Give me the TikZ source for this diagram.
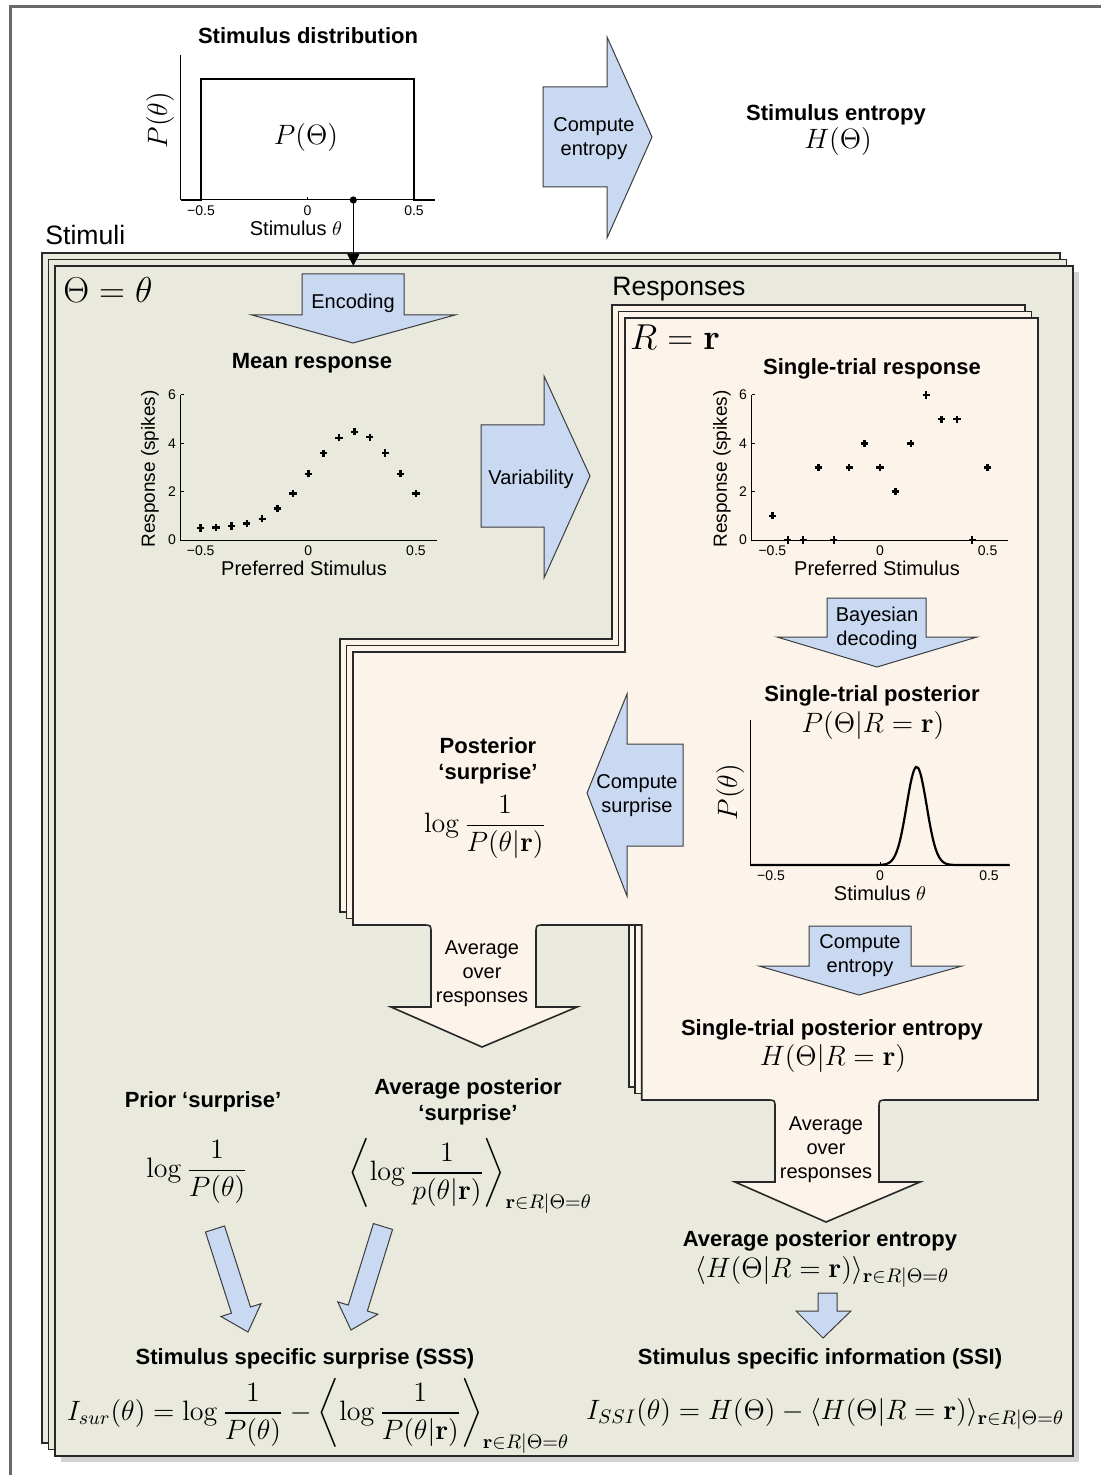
\RequirePackage{fix-cm}
\documentclass[tikz,border=0pt]{standalone}
\usepackage{amsmath}
\usepackage[no-math]{fontspec}
\setsansfont{Liberation Sans}
\usetikzlibrary{arrows.meta,calc,positioning}

\definecolor{stimfill}{RGB}{234,233,222}
\definecolor{respfill}{RGB}{252,244,235}
\definecolor{arrowblue}{RGB}{201,217,242}
\definecolor{arrowline}{RGB}{60,60,60}
\definecolor{pageline}{RGB}{40,40,40}
\definecolor{framegray}{RGB}{105,105,105}
\definecolor{shadowgray}{RGB}{210,210,210}

\begin{document}
\begin{tikzpicture}[
  x=0.5pt, y=-0.5pt,
  >=Stealth,
  head/.style ={font=\fontsize{11}{13}\selectfont\sffamily\bfseries,align=center,inner sep=0pt,yshift=-1.5pt},
  lbl/.style  ={font=\fontsize{10}{12}\selectfont\sffamily,align=center,inner sep=0pt,yshift=-1.5pt},
  xlbl/.style ={font=\fontsize{10}{12}\selectfont\sffamily,inner sep=0pt},
  group/.style={font=\fontsize{13.3}{15}\selectfont\sffamily,inner sep=0pt},
  eqn/.style  ={font=\fontsize{14}{16}\selectfont,inner sep=0pt},
  bigeqn/.style={font=\fontsize{18}{20}\selectfont,inner sep=0pt},
  tick/.style ={font=\fontsize{7}{8}\selectfont\sffamily,inner sep=0pt},
  axlbl/.style={font=\fontsize{9.5}{11}\selectfont\sffamily,inner sep=0pt},
  axis/.style ={draw=black,line width=0.5pt},
  curve/.style={draw=black,line width=1.1pt},
  spk/.style  ={draw=black,line width=1.2pt},
  page/.style ={draw=pageline,fill=stimfill,line width=0.8pt},
  rpage/.style={draw=pageline,fill=respfill,line width=0.8pt},
  barrow/.style={draw=arrowline,fill=arrowblue,line width=0.5pt},
]
\useasboundingbox (0,0) rectangle (1101,1475);

%% ------------------------------------------------------------
%% frame and the two stacks of pages
%% ------------------------------------------------------------
\draw[framegray,line width=1.5pt] (10,1475) -- (10,7) -- (1101,7);

% --- Stimuli stack ---
\fill[shadowgray] (61,272) rectangle (1079,1462);
\foreach \d in {13,6.5,0}
  \draw[page] ({55-\d},{266-\d}) rectangle ({1073-\d},{1456-\d});
\coordinate (pagetop) at (353.3,266);

% --- Responses stack (front page carries the two averaging arrows) ---
\foreach \d in {13,6.5}
  \draw[rpage,shift={(-\d,-\d)}] (625,318) -- (1038,318) -- (1038,1100)
    -- (641.7,1100) -- (641.7,925) -- (353,925) -- (353,652) -- (625,652) -- cycle;
\draw[rpage] (625,318) -- (1038,318) -- (1038,1100) -- (887,1100)
  .. controls (879,1100) .. (879,1108) -- (879,1182) -- (920,1182) -- (826,1222)
  -- (735,1182) -- (775,1182) -- (775,1108) .. controls (775,1100) .. (767,1100)
  -- (641.7,1100) -- (641.7,925) -- (544,925) .. controls (536,925) .. (536,933)
  -- (536,1007) -- (577,1007) -- (482,1047) -- (391,1007) -- (431,1007)
  -- (431,933) .. controls (431,925) .. (423,925) -- (353,925) -- (353,652)
  -- (625,652) -- cycle;

\node[group,anchor=west] (stimuli) at (45,235) {Stimuli};
\node[group,anchor=west] (responses) at (612,289) {Responses};
\node[bigeqn] (thetaeq) at (108,290) {$\Theta=\theta$};
\node[bigeqn] (req) at (675,337) {$R=\mathbf{r}$};

%% ------------------------------------------------------------
%% block arrows
%% ------------------------------------------------------------
\draw[barrow] (543,87) -- (607,87) -- (607,37) -- (652,137) -- (607,238) -- (607,187) -- (543,187) -- cycle;
\draw[barrow] (302,274) -- (404,274) -- (404,315) -- (455,315) -- (353,343) -- (252,315) -- (302,315) -- cycle;
\draw[barrow] (481,425) -- (544,425) -- (544,376) -- (590,476) -- (544,578) -- (544,527) -- (481,527) -- cycle;
\draw[barrow] (827,598) -- (926,598) -- (926,637) -- (977,637) -- (877,667) -- (777,637) -- (827,637) -- cycle;
\draw[barrow] (683,744) -- (627,744) -- (627,694) -- (587,793) -- (627,896) -- (627,846) -- (683,846) -- cycle;
\draw[barrow] (809,926) -- (911,926) -- (911,966) -- (962,966) -- (859,995) -- (759,966) -- (809,966) -- cycle;
\draw[barrow] (818,1293) -- (837,1293) -- (837,1311) -- (851,1311) -- (823,1338) -- (796,1311) -- (818,1311) -- cycle;

% --- slanted arrows into the SSS ---
\coordinate (pa0) at (215,1229);   \coordinate (pa1) at (248,1332);
\coordinate (pb0) at (383,1226.5); \coordinate (pb1) at (351,1330);
\coordinate (pab) at ($(pa1)!11.5pt!(pa0)$);
\coordinate (pbb) at ($(pb1)!11.5pt!(pb0)$);
\draw[barrow] ($(pa0)!5pt!90:(pa1)$) -- ($(pab)!5pt!90:(pa1)$) -- ($(pab)!10.5pt!90:(pa1)$)
  -- (pa1) -- ($(pab)!10.5pt!-90:(pa1)$) -- ($(pab)!5pt!-90:(pa1)$) -- ($(pa0)!5pt!-90:(pa1)$) -- cycle;
\draw[barrow] ($(pb0)!5pt!90:(pb1)$) -- ($(pbb)!5pt!90:(pb1)$) -- ($(pbb)!10.5pt!90:(pb1)$)
  -- (pb1) -- ($(pbb)!10.5pt!-90:(pb1)$) -- ($(pbb)!5pt!-90:(pb1)$) -- ($(pb0)!5pt!-90:(pb1)$) -- cycle;

% --- arrow texts ---
\node[lbl] (cent1) at (594,136) {Compute\\entropy};
\node[lbl] (encode) at (353,300) {Encoding};
\node[lbl] (vari) at (531,476) {Variability};
\node[lbl] (bayes) at (877,625) {Bayesian\\decoding};
\node[lbl] (csurp) at (637,793) {Compute\\surprise};
\node[lbl] (cent2) at (860,953) {Compute\\entropy};
\node[lbl] (avg1) at (482,971) {Average\\over\\responses};
\node[lbl] (avg2) at (826,1147) {Average\\over\\responses};

%% ------------------------------------------------------------
%% plots
%% ------------------------------------------------------------
% --- stimulus distribution ---
\begin{scope}[shift={(307.5,200)},x=106.5pt,y=0.5pt]
  \draw[axis] (-0.596,145) -- (-0.596,0) -- (0.599,0);
  \draw[axis] (0,0) -- ++(0pt,1.5pt);
  \draw[curve] (-0.596,0) -- (-0.5,0) -- (-0.5,121) -- (0.5,121) -- (0.5,0) -- (0.599,0);
  \foreach \x/\t in {-0.5/−0.5,0/0,0.5/0.5}
    \node[tick,below=2.5pt] at (\x,0) {\t};
\end{scope}
\node[head] (stimdist) at (308,33) {Stimulus distribution};
\node[eqn] (ptheta) at (306,138) {$P(\Theta)$};
\node[eqn,rotate=90] (pylab1) at (160,120) {$P(\theta)$};
\node[xlbl] (xlab1) at (296,228) {Stimulus $\theta$};
\node[circle,fill,inner sep=0pt,minimum size=3.6pt] (thetadot) at (353.3,200) {};
\draw[->,line width=0.6pt,-{Triangle[length=6pt,width=6pt]}] (thetadot.center) -- (pagetop);

\node[head] (stimHt) at (836,112) {Stimulus entropy};
\node[eqn] (stimH) at (838,142) {$H(\Theta)$};

% --- mean response ---
\node[head] (meanresp) at (312,360) {Mean response};
\begin{scope}[shift={(308.3,540)},x=107.65pt,y=12.085pt]
  \draw[axis] (-0.593,6) -- (-0.593,0) -- (0.596,0);
  \foreach \v in {2,4,6} \draw[axis] (-0.593,\v) -- ++(1.5pt,0pt);
  \foreach \v in {0,2,4,6} \node[tick,left=2.2pt] at (-0.593,\v) {\v};
  \foreach \x/\t in {-0.5/−0.5,0/0,0.5/0.5}
    \node[tick,below=2.5pt] at (\x,0) {\t};
  \foreach \v [count=\k from 0] in {0.50,0.52,0.58,0.68,0.88,1.30,1.92,2.74,3.59,4.23,4.48,4.25,3.60,2.74,1.93}
    \draw[spk] ({-0.5+\k/14},\v) +(-1.8pt,0pt) -- +(1.8pt,0pt) +(0pt,-1.8pt) -- +(0pt,1.8pt);
\end{scope}
\node[axlbl,rotate=90] (ylab2) at (150,469) {Response (spikes)};
\node[xlbl] (xlab2) at (304,568) {Preferred Stimulus};

% --- single-trial response ---
\node[head] (strial) at (872,366) {Single-trial response};
\begin{scope}[shift={(880,540)},x=107.65pt,y=12.085pt]
  \draw[axis] (-0.5955,6) -- (-0.5955,0) -- (0.595,0);
  \foreach \v in {2,4,6} \draw[axis] (-0.5955,\v) -- ++(1.5pt,0pt);
  \foreach \v in {0,2,4,6} \node[tick,left=2.2pt] at (-0.5955,\v) {\v};
  \foreach \x/\t in {-0.5/−0.5,0/0,0.5/0.5}
    \node[tick,below=2.5pt] at (\x,0) {\t};
  \foreach \v [count=\k from 0] in {1,0,0,3,0,3,4,3,2,4,6,5,5,0,3}
    \draw[spk] ({-0.5+\k/14},\v) +(-1.8pt,0pt) -- +(1.8pt,0pt) +(0pt,-1.8pt) -- +(0pt,1.8pt);
\end{scope}
\node[axlbl,rotate=90] (ylab3) at (722,469) {Response (spikes)};
\node[xlbl] (xlab3) at (877,568) {Preferred Stimulus};

% --- single-trial posterior ---
\node[head] (spost) at (872,693) {Single-trial posterior};
\node[eqn] (spostf) at (873,725) {$P(\Theta|R=\mathbf{r})$};
\begin{scope}[shift={(880,865)},x=109pt,y=0.5pt]
  \draw[axis] (-0.593,145) -- (-0.593,0) -- (0.596,0);
  \draw[axis] (0,0) -- ++(0pt,1.5pt);
  \draw[curve] plot[domain=-0.593:0.596,samples=120,smooth]
    (\x,{98*exp(-((\x-0.168)^2)/(2*0.046^2))});
  \foreach \x/\t in {-0.5/−0.5,0/0,0.5/0.5}
    \node[tick,below=2.5pt] at (\x,0) {\t};
\end{scope}
\node[eqn,rotate=90] (pylab4) at (730,792) {$P(\theta)$};
\node[xlbl] (xlab4) at (880,893) {Stimulus $\theta$};

%% ------------------------------------------------------------
%% surprise and entropy terms
%% ------------------------------------------------------------
\node[head] (postsurp) at (488,758) {Posterior\\‘surprise’};
\node[eqn] (postsurpf) at (485,827) {$\log\dfrac{1}{P(\theta|\mathbf{r})}$};

\node[head] (stent) at (832,1027) {Single-trial posterior entropy};
\node[eqn] (stentf) at (833,1058) {$H(\Theta|R=\mathbf{r})$};

\node[head] (priorsurp) at (203,1099) {Prior ‘surprise’};
\node[eqn] (priorsurpf) at (197,1172) {$\log\dfrac{1}{P(\theta)}$};

\node[head] (avgsurp) at (468,1099) {Average posterior\\‘surprise’};
\node[eqn] (avgsurpf) at (470,1176)
  {$\left\langle\log\dfrac{1}{p(\theta|\mathbf{r})}\right\rangle_{\mathbf{r}\in R|\Theta=\theta}$};

\node[head] (avgent) at (820,1238) {Average posterior entropy};
\node[eqn] (avgentf) at (822,1272)
  {$\langle H(\Theta|R=\mathbf{r})\rangle_{\mathbf{r}\in R|\Theta=\theta}$};

\node[head] (sss) at (305,1356) {Stimulus specific surprise (SSS)};
\node[eqn] (sssf) at (318,1416)
  {$I_{sur}(\theta)=\log\dfrac{1}{P(\theta)}-\left\langle\log\dfrac{1}{P(\theta|\mathbf{r})}\right\rangle_{\mathbf{r}\in R|\Theta=\theta}$};

\node[head] (ssi) at (820,1356) {Stimulus specific information (SSI)};
\node[eqn] (ssif) at (825,1414)
  {$I_{SSI}(\theta)=H(\Theta)-\langle H(\Theta|R=\mathbf{r})\rangle_{\mathbf{r}\in R|\Theta=\theta}$};

\end{tikzpicture}
\end{document}
